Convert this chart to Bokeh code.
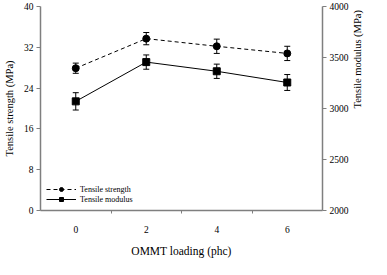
import math
from bokeh.plotting import figure
from bokeh.models import (Range1d, LinearAxis, FixedTicker, ColumnDataSource, Whisker,
                          TeeHead, Legend, LegendItem)
from bokeh.embed import file_html
from bokeh.resources import INLINE

loading = [0, 2, 4, 6]
strength = [27.9, 33.7, 32.2, 30.8]
strength_err = [1.0, 1.2, 1.4, 1.4]
modulus = [3070, 3455, 3365, 3255]
modulus_err = [85, 70, 70, 78]

FONT = "Liberation Serif"
AXC = "#7f7f7f"

p = figure(width=371, height=259, output_backend="svg", toolbar_location=None,
           x_range=Range1d(-1, 7), y_range=Range1d(0, 40),
           min_border_left=30, min_border_right=46, min_border_top=6, min_border_bottom=38)
p.extra_y_ranges = {"mod": Range1d(2000, 4000)}
p.outline_line_color = None
p.xgrid.visible = False
p.ygrid.visible = False

src_s = ColumnDataSource(dict(x=loading, y=strength,
                              lo=[v - e for v, e in zip(strength, strength_err)],
                              hi=[v + e for v, e in zip(strength, strength_err)]))
src_m = ColumnDataSource(dict(x=loading, y=modulus,
                              lo=[v - e for v, e in zip(modulus, modulus_err)],
                              hi=[v + e for v, e in zip(modulus, modulus_err)]))

ls = p.line("x", "y", source=src_s, line_color="black", line_width=1, line_dash="4 3")
ms = p.scatter("x", "y", source=src_s, marker="circle", size=7, color="black")
lm = p.line("x", "y", source=src_m, line_color="black", line_width=1, y_range_name="mod")
mm = p.scatter("x", "y", source=src_m, marker="square", size=7, color="black", y_range_name="mod")

for src, rn in ((src_s, "default"), (src_m, "mod")):
    w = Whisker(base="x", upper="hi", lower="lo", source=src, y_range_name=rn,
                line_color="black", line_width=1,
                upper_head=TeeHead(size=6, line_color="black", line_width=1),
                lower_head=TeeHead(size=6, line_color="black", line_width=1))
    p.add_layout(w)

# bottom axis
xa = p.xaxis[0]
xa.ticker = FixedTicker(ticks=[0, 2, 4, 6], minor_ticks=[1, 3, 5])
xa.major_tick_out = 0
xa.major_tick_in = 0
xa.minor_tick_out = 3
xa.minor_tick_in = 0
xa.minor_tick_line_color = AXC
xa.axis_line_color = AXC
xa.axis_line_width = 1.5
xa.major_label_standoff = 12
xa.axis_label = "OMMT loading (phc)"
xa.axis_label_standoff = 9

# left axis
ya = p.yaxis[0]
ya.ticker = FixedTicker(ticks=[0, 8, 16, 24, 32, 40])
ya.axis_label = "Tensile strength (MPa)"
ya.axis_label_standoff = 6

# right axis
yr = LinearAxis(y_range_name="mod", ticker=FixedTicker(ticks=[2000, 2500, 3000, 3500, 4000]),
                axis_label="Tensile modulus (MPa)")
yr.axis_label_standoff = 6
yr.axis_label_orientation = math.pi / 2
p.add_layout(yr, "right")

for a in (ya, yr):
    a.major_tick_out = 4
    a.major_tick_in = 0
    a.minor_tick_out = 0
    a.minor_tick_in = 0
    a.axis_line_color = AXC
    a.axis_line_width = 1.5
    a.major_tick_line_color = AXC
    a.major_label_standoff = 3

for a in (xa, ya, yr):
    a.major_label_text_font = FONT
    a.major_label_text_font_size = "9.5px"
    a.major_label_text_color = "black"
    a.axis_label_text_font = FONT
    a.axis_label_text_font_size = "10.5px"
    a.axis_label_text_font_style = "normal"
    a.axis_label_text_color = "black"
xa.axis_label_text_font_size = "11.5px"

legend = Legend(items=[LegendItem(label="Tensile strength", renderers=[ls, ms]),
                       LegendItem(label="Tensile modulus", renderers=[lm, mm])],
                location="bottom_left", border_line_color=None, background_fill_alpha=0,
                label_text_font=FONT, label_text_font_size="8px", label_text_color="black",
                glyph_width=30, glyph_height=10, label_height=10, spacing=0, padding=2,
                margin=6, label_standoff=4)
p.add_layout(legend)

open("out.html", "w").write(file_html(p, INLINE))
